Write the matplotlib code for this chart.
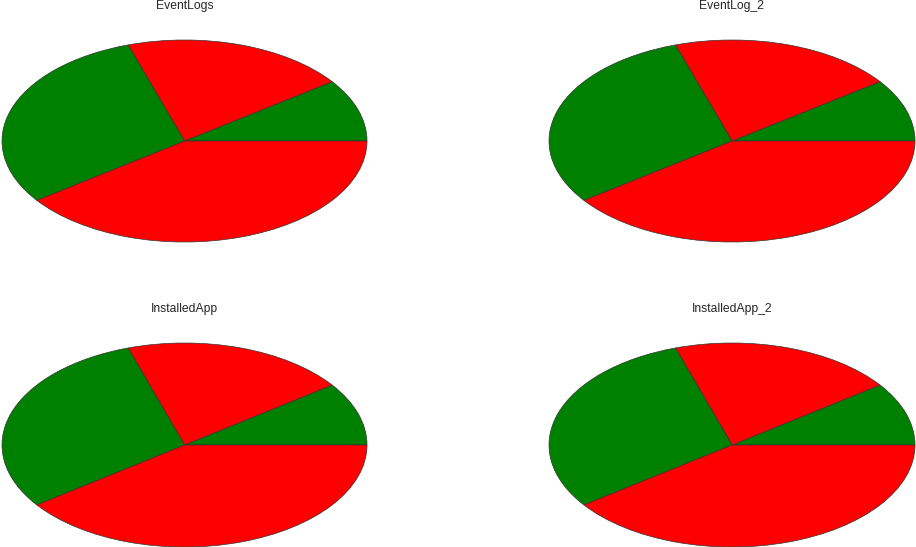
import matplotlib
matplotlib.use('Agg')
import matplotlib.pyplot as plt

# slice sizes and colours shared by all four pies
titles = ['EventLogs', 'EventLog_2', 'InstalledApp', 'InstalledApp_2']
sizes = [10, 20, 30, 40]
colors = ['green', 'red', 'green', 'red']

plt.rcParams['font.family'] = ['Liberation Sans', 'DejaVu Sans']

fig = plt.figure(figsize=(9.16, 5.47), dpi=100)
fig.patch.set_facecolor('white')

W, H = 916, 547
# axes boxes in pixels: left, top, right, bottom
boxes = [(2, 40, 367, 242), (549, 40, 915, 242),
         (2, 343, 367, 547), (549, 343, 915, 547)]

for title, (l, t, r, b) in zip(titles, boxes):
    ax = fig.add_axes([l / W, 1 - b / H, (r - l) / W, (b - t) / H])
    ax.pie(sizes, colors=colors, startangle=0, counterclock=True,
           wedgeprops={'edgecolor': '#333333', 'linewidth': 0.5})
    ax.set_aspect('auto')
    ax.set_xlim(-1, 1)
    ax.set_ylim(-1, 1)
    ax.axis('off')
    ax.set_title(title, fontsize=8.7, color='#262626', pad=22)

fig.savefig('out.png', dpi=100, facecolor='white')
